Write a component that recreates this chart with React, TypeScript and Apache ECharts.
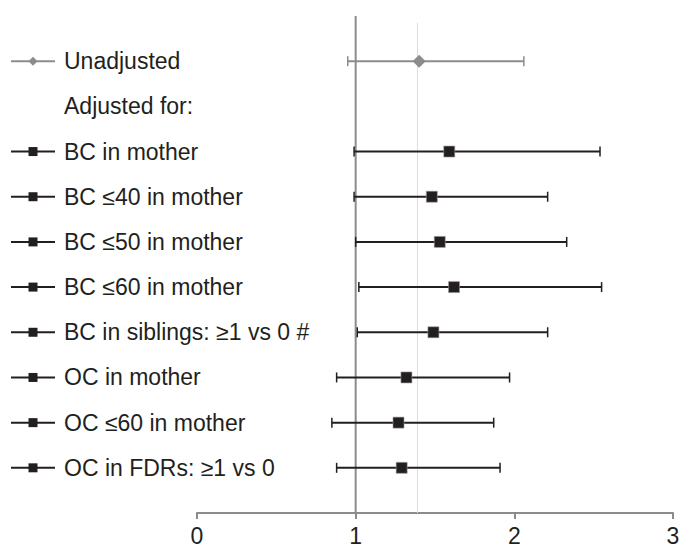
import React, { useEffect, useRef } from "react";
import * as echarts from "echarts";

const rowLabels = [
  "Unadjusted",
  "Adjusted for:",
  "BC in mother",
  "BC ≤40 in mother",
  "BC ≤50 in mother",
  "BC ≤60 in mother",
  "BC in siblings: ≥1 vs 0 #",
  "OC in mother",
  "OC ≤60 in mother",
  "OC in FDRs: ≥1 vs 0",
];
// icon kind per row: "diamond" (unadjusted), "none", "square" (adjusted)
const rowIcons = ["diamond", "none", "square", "square", "square", "square", "square", "square", "square", "square"];

// Unadjusted estimate: [row, lower, estimate, upper]
const unadjustedRows = [0];
const unadjustedLow = [0.95];
const unadjustedEst = [1.4];
const unadjustedHigh = [2.06];

// Adjusted estimates
const adjustedRows = [2, 3, 4, 5, 6, 7, 8, 9];
const adjustedLow = [0.99, 0.99, 1.0, 1.02, 1.01, 0.88, 0.85, 0.88];
const adjustedEst = [1.59, 1.48, 1.53, 1.62, 1.49, 1.32, 1.27, 1.29];
const adjustedHigh = [2.54, 2.21, 2.33, 2.55, 2.21, 1.97, 1.87, 1.91];

const xTicks = [0, 1, 2, 3];
const nullLine = 1;
const referenceLine = 1.39;

const DARK = "#231f20";
const GRAY = "#8c8c8c";
const FONT = "'Liberation Sans', Arial, Helvetica, sans-serif";
const FS = 23;

function makeErrorRender(color: string, marker: "square" | "diamond") {
  return (params: any, api: any) => {
    const row = api.value(0);
    const lo = api.coord([api.value(1), row]);
    const est = api.coord([api.value(2), row]);
    const hi = api.coord([api.value(3), row]);
    const style = { stroke: color, lineWidth: 2 };
    const children: any[] = [
      { type: "line", shape: { x1: lo[0], y1: lo[1], x2: hi[0], y2: hi[1] }, style },
      { type: "line", shape: { x1: lo[0], y1: lo[1] - 5, x2: lo[0], y2: lo[1] + 5 }, style: { stroke: color, lineWidth: 1.5 } },
      { type: "line", shape: { x1: hi[0], y1: hi[1] - 5, x2: hi[0], y2: hi[1] + 5 }, style: { stroke: color, lineWidth: 1.5 } },
    ];
    if (marker === "square") {
      children.push({
        type: "rect",
        shape: { x: est[0] - 5.5, y: est[1] - 5.5, width: 11, height: 11 },
        style: { fill: color, stroke: "#9a9a9a", lineWidth: 0.6 },
      });
    } else {
      children.push({
        type: "polygon",
        shape: { points: [[est[0], est[1] - 6.5], [est[0] + 6.5, est[1]], [est[0], est[1] + 6.5], [est[0] - 6.5, est[1]]] },
        style: { fill: color },
      });
    }
    return { type: "group", children };
  };
}

export default function App() {
  const ref = useRef<HTMLDivElement>(null);
  useEffect(() => {
    if (!ref.current) return;
    const chart = echarts.init(ref.current, null, { renderer: "svg" });

    const unadjData = unadjustedRows.map((r, i) => [r, unadjustedLow[i], unadjustedEst[i], unadjustedHigh[i]]);
    const adjData = adjustedRows.map((r, i) => [r, adjustedLow[i], adjustedEst[i], adjustedHigh[i]]);
    const labelData = rowLabels.map((_, i) => [i, 0]);

    chart.setOption({
      animation: false,
      backgroundColor: "#ffffff",
      grid: { left: 197, right: 9, top: 16, bottom: 35, containLabel: false, outerBoundsMode: "none" },
      xAxis: {
        type: "value",
        position: "bottom",
        min: xTicks[0],
        max: xTicks[xTicks.length - 1],
        interval: 1,
        axisLine: { show: true, onZero: false, lineStyle: { color: GRAY, width: 2 } },
        axisTick: { show: true, length: 6, lineStyle: { color: GRAY, width: 2 } },
        axisLabel: { color: DARK, fontSize: FS, fontFamily: FONT, margin: 11 },
        splitLine: { show: false },
      },
      yAxis: {
        type: "value",
        inverse: true,
        min: -1,
        max: 10,
        show: false,
      },
      series: [
        {
          type: "custom",
          name: "refLines",
          data: [[nullLine, 0]],
          encode: { x: 0, y: 1 },
          silent: true,
          z: 1,
          renderItem: (params: any, api: any) => {
            const topNull = api.coord([nullLine, -1]);
            const bot = api.coord([nullLine, 10]);
            const topRef = api.coord([referenceLine, -0.85]);
            const botRef = api.coord([referenceLine, 10]);
            return {
              type: "group",
              children: [
                { type: "line", shape: { x1: topRef[0], y1: topRef[1], x2: botRef[0], y2: botRef[1] }, style: { stroke: "#dcdcdc", lineWidth: 1 } },
                { type: "line", shape: { x1: topNull[0], y1: topNull[1], x2: bot[0], y2: bot[1] }, style: { stroke: GRAY, lineWidth: 2 } },
              ],
            };
          },
        },
        {
          type: "custom",
          name: "Unadjusted",
          data: unadjData,
          encode: { x: [1, 2, 3], y: 0 },
          z: 3,
          renderItem: makeErrorRender(GRAY, "diamond"),
        },
        {
          type: "custom",
          name: "Adjusted",
          data: adjData,
          encode: { x: [1, 2, 3], y: 0 },
          z: 3,
          renderItem: makeErrorRender(DARK, "square"),
        },
        {
          type: "custom",
          name: "labels",
          data: labelData,
          encode: { x: 1, y: 0 },
          clip: false,
          z: 4,
          renderItem: (params: any, api: any) => {
            const i = api.value(0);
            const p = api.coord([0, i]);
            const y = p[1];
            const kind = rowIcons[i];
            const children: any[] = [];
            if (kind !== "none") {
              const color = kind === "diamond" ? GRAY : DARK;
              children.push({ type: "line", shape: { x1: 11, y1: y, x2: 55, y2: y }, style: { stroke: color, lineWidth: 2 } });
              if (kind === "diamond") {
                children.push({
                  type: "polygon",
                  shape: { points: [[33, y - 4.5], [37.5, y], [33, y + 4.5], [28.5, y]] },
                  style: { fill: color },
                });
              } else {
                children.push({ type: "rect", shape: { x: 28.5, y: y - 4.5, width: 9, height: 9 }, style: { fill: color } });
              }
            }
            children.push({
              type: "text",
              style: {
                text: rowLabels[i],
                x: 64,
                y: y,
                fill: DARK,
                fontSize: FS,
                fontFamily: FONT,
                align: "left",
                verticalAlign: "middle",
              },
            });
            return { type: "group", children };
          },
        },
      ],
    });
    return () => chart.dispose();
  }, []);

  return (
    <div
      ref={ref}
      style={{ position: "fixed", left: 0, top: 0, width: 682, height: 548, background: "#fff" }}
    />
  );
}
